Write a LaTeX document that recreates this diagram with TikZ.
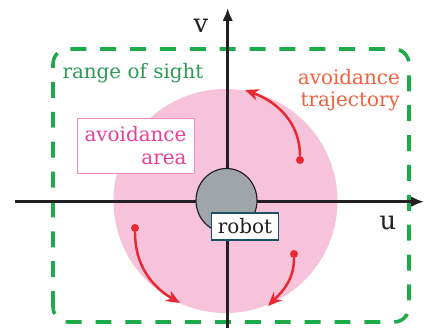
\documentclass[tikz,border=0pt]{standalone}
\usepackage{fontspec}
\setmainfont{DejaVu Serif}
\usetikzlibrary{arrows.meta,positioning}
\definecolor{AxisInk}{HTML}{231F23}
\definecolor{SightGreen}{HTML}{1DAA4A}
\definecolor{SightText}{HTML}{2E9A55}
\definecolor{AreaPink}{HTML}{F7C3DA}
\definecolor{AreaText}{HTML}{E8409A}
\definecolor{AreaEdge}{HTML}{F08CBE}
\definecolor{PathRed}{HTML}{EB2832}
\definecolor{PathText}{HTML}{F0603C}
\definecolor{RobotGray}{HTML}{A0A5AA}
\definecolor{RobotEdge}{HTML}{1E5064}
\tikzset{
  every node/.style={font=\fontsize{17}{19}\selectfont, text=AxisInk},
  axis/.style={-{Latex[length=11pt,width=9pt]}, draw=AxisInk, line width=2.1pt},
  axislabel/.style={font=\fontsize{22}{24}\selectfont},
  sight/.style={draw=SightGreen, line width=3pt, dash pattern=on 13.6pt off 11.9pt, rounded corners=0.45cm},
  area/.style={fill=AreaPink},
  robotbody/.style={draw=AxisInk, line width=1pt, fill=RobotGray},
  labelbox/.style={draw=RobotEdge, line width=1pt, fill=white, minimum width=2.0cm, minimum height=0.81cm, inner sep=2pt},
  areabox/.style={draw=AreaEdge, line width=0.8pt, fill=white, text=AreaText, align=right, minimum width=3.51cm, minimum height=1.65cm},
  dot/.style={circle, fill=PathRed, inner sep=0pt, minimum size=0.24cm},
  motion/.style={-{Stealth[length=12pt,width=10pt]}, draw=PathRed, line width=2.1pt},
}
\begin{document}
\begin{tikzpicture}[x=0.03cm,y=0.03cm]
  \useasboundingbox (0,0) rectangle (425,329);
  % Range of sight
  \draw[sight] (53,7) rectangle (409,280);
  % Avoidance area
  \fill[area] (225.5,128) circle[radius=3.36cm];
  % Axes
  \coordinate (uL) at (15,127.3);
  \coordinate (uR) at (424,127.3);
  \coordinate (vB) at (227.7,1);
  \coordinate (vT) at (227.7,321);
  \draw[axis] (uL) -- (uR);
  \draw[axis] (vB) -- (vT);
  \node[axislabel] (vlab) at (201,303) {v};
  \node[axislabel] (ulab) at (388,106) {u};
  % Robot
  \draw[robotbody] (226.5,128.5) ellipse[x radius=0.915cm, y radius=0.96cm];
  \node[labelbox] (robot) at (245,102.5) {robot};
  % Labels
  \node[areabox] (areatext) at (135.5,183.5) {avoidance\\area};
  \node[text=SightText] (sighttext) at (133,256) {range of sight};
  \node[text=PathText, align=right, anchor=east] (pathtext) at (404,239) {avoidance\\trajectory};
  % Avoidance trajectories
  \node[dot] (p1) at (300,169) {};
  \node[dot] (p2) at (135,101) {};
  \node[dot] (p3) at (294,75) {};
  \coordinate (q1) at (245,239);
  \coordinate (q2) at (180,26);
  \coordinate (q3) at (268,23);
  \draw[motion] (p1) to[out=90, in=-20] (q1);
  \draw[motion] (p2) to[out=-90, in=150] (q2);
  \draw[motion] (p3) to[out=-90, in=45] (q3);
\end{tikzpicture}
\end{document}
